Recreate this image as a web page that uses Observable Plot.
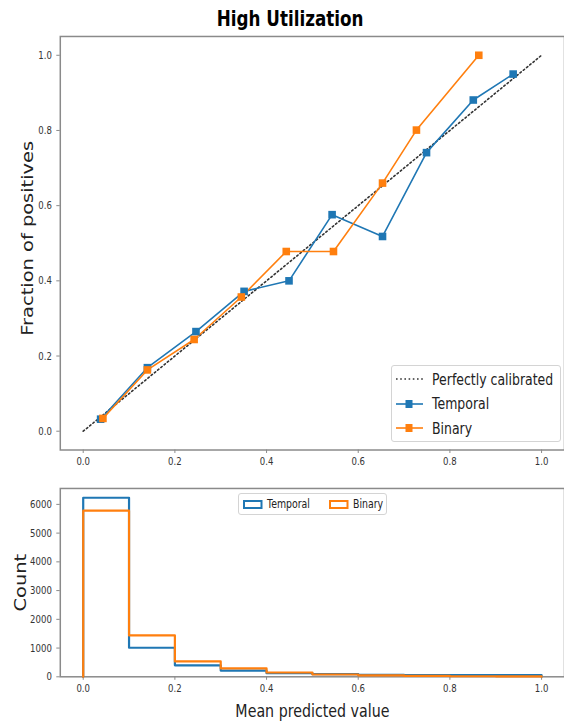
<!DOCTYPE html>
<html><head><meta charset="utf-8">
<script src="https://cdn.jsdelivr.net/npm/d3@7"></script>
<script src="https://cdn.jsdelivr.net/npm/@observablehq/plot@0.6"></script>
<style>
body{margin:0;background:#fff;}
#wrap{position:relative;width:564px;height:722px;overflow:hidden;font-family:"DejaVu Sans",sans-serif;color:#222;}
#title{position:absolute;left:0;width:580px;top:8px;text-align:center;font-weight:bold;font-size:21.5px;color:#000;line-height:21.5px;}
#topChart{position:absolute;left:0;top:30px;}
#bottomChart{position:absolute;left:0;top:480px;}
.sx{display:inline-block;transform:scaleX(0.78);transform-origin:left center;white-space:nowrap;}
#title .sx{transform-origin:center center;}
.legend{position:absolute;background:rgba(255,255,255,0.85);border:1px solid #d4d4d4;border-radius:3px;box-sizing:border-box;}
.row{position:absolute;left:0;display:flex;align-items:center;white-space:nowrap;}
.row svg{display:block;flex:none;}
</style></head>
<body>
<div id="wrap">
  <div id="title"></div>
  <div id="topChart"></div>
  <div id="bottomChart"></div>
  <div id="leg1" class="legend" style="left:391px;top:365px;width:170px;height:77px;font-size:16px;"></div>
  <div id="leg2" class="legend" style="left:238px;top:493px;width:149px;height:22px;font-size:12px;"></div>
</div>
<script>
const titleText = "High Utilization";
const seriesNames = ["Temporal", "Binary"];
const refName = "Perfectly calibrated";
const colors = ["#1f77b4", "#ff7f0e"];
const refX = [0, 1];
const refY = [0, 1];
const temporalX = [0.038, 0.140, 0.246, 0.351, 0.449, 0.543, 0.653, 0.749, 0.851, 0.938];
const temporalY = [0.032, 0.169, 0.265, 0.372, 0.400, 0.576, 0.518, 0.741, 0.881, 0.950];
const binaryX = [0.043, 0.140, 0.242, 0.345, 0.443, 0.546, 0.653, 0.727, 0.863];
const binaryY = [0.034, 0.163, 0.244, 0.357, 0.478, 0.478, 0.660, 0.801, 1.000];
const binEdges = [0, 0.1, 0.2, 0.3, 0.4, 0.5, 0.6, 0.7, 0.8, 0.9, 1.0];
const temporalCounts = [6230, 1010, 400, 215, 125, 90, 70, 60, 55, 55];
const binaryCounts = [5780, 1440, 535, 290, 150, 80, 50, 30, 20, 15];
const xTicks = [0, 0.2, 0.4, 0.6, 0.8, 1.0];
const yTicksTop = [0, 0.2, 0.4, 0.6, 0.8, 1.0];
const yTicksBottom = [0, 1000, 2000, 3000, 4000, 5000, 6000];
const xLabelBottom = "Mean predicted value";
const yLabelTop = "Fraction of positives";
const yLabelBottom = "Count";

(function () {
const SX = 0.78;
document.getElementById("title").innerHTML = `<span class="sx">${titleText}</span>`;

const curves = [
  {name: seriesNames[0], xs: temporalX, ys: temporalY},
  {name: seriesNames[1], xs: binaryX, ys: binaryY}
];
const calData = curves.flatMap(c => c.xs.map((x, i) => ({series: c.name, x, y: c.ys[i]})));
const refData = refX.map((x, i) => ({x, y: refY[i]}));

const fmt1 = d3.format(".1f");
const font = '"DejaVu Sans",sans-serif';
const frameColor = "#8a8a8a";

const chartTop = Plot.plot({
  width: 566, height: 445,
  marginLeft: 60, marginRight: 0, marginTop: 6, marginBottom: 24,
  style: {fontFamily: font, fontSize: "11px", color: "#333", background: "transparent", overflow: "visible"},
  x: {domain: [-0.05, 1.05]},
  y: {domain: [-0.05, 1.05]},
  color: {domain: seriesNames, range: colors},
  marks: [
    Plot.axisX({ticks: xTicks, tickFormat: fmt1, tickSize: 3.5, tickPadding: 4, label: null, stroke: frameColor}),
    Plot.axisY({ticks: yTicksTop, tickFormat: fmt1, tickSize: 3.5, tickPadding: 5, label: yLabelTop, labelAnchor: "center", labelOffset: 38, stroke: frameColor}),
    Plot.frame({stroke: frameColor, strokeWidth: 1.5}),
    Plot.line(refData, {x: "x", y: "y", stroke: "#333", strokeWidth: 1.6, strokeDasharray: "1.6,2.6"}),
    Plot.line(calData, {x: "x", y: "y", z: "series", stroke: "series", strokeWidth: 1.6}),
    Plot.dot(calData, {x: "x", y: "y", fill: "series", symbol: "square", r: 4.3})
  ]
});
document.getElementById("topChart").appendChild(chartTop);

const histData = [
  {name: seriesNames[0], counts: temporalCounts},
  {name: seriesNames[1], counts: binaryCounts}
].flatMap(s => {
  const pts = [{series: s.name, x: binEdges[0], y: 0}];
  s.counts.forEach((c, i) => pts.push({series: s.name, x: binEdges[i], y: c}));
  pts.push({series: s.name, x: binEdges[binEdges.length - 1], y: 0});
  return pts;
});
const yMax = d3.max([...temporalCounts, ...binaryCounts]) * 1.052;

const chartBottom = Plot.plot({
  width: 566, height: 242,
  marginLeft: 60, marginRight: 0, marginTop: 8, marginBottom: 45,
  style: {fontFamily: font, fontSize: "11px", color: "#333", background: "transparent", overflow: "visible"},
  x: {domain: [-0.05, 1.05]},
  y: {domain: [0, yMax]},
  color: {domain: seriesNames, range: colors},
  marks: [
    Plot.axisX({ticks: xTicks, tickFormat: fmt1, tickSize: 3.5, tickPadding: 4, label: xLabelBottom, labelAnchor: "center", labelOffset: 40, stroke: frameColor}),
    Plot.axisY({ticks: yTicksBottom, tickFormat: d3.format("d"), tickSize: 3.5, tickPadding: 5, label: yLabelBottom, labelAnchor: "center", labelOffset: 45, stroke: frameColor}),
    Plot.frame({stroke: frameColor, strokeWidth: 1.5}),
    Plot.line(histData, {x: "x", y: "y", z: "series", stroke: "series", strokeWidth: 2.2, curve: "step-after"})
  ]
});
document.getElementById("bottomChart").appendChild(chartBottom);

// axis labels: exact text, larger size
const labelTexts = [[chartTop, "y", yLabelTop, 19.5, 5], [chartBottom, "x", xLabelBottom, 18.3, 0], [chartBottom, "y", yLabelBottom, 19.5, 0]];
for (const [svg, axis, label, size, shift] of labelTexts) {
  svg.querySelectorAll(`g[aria-label='${axis}-axis label'] text`).forEach(t => {
    t.textContent = label;
    t.setAttribute("font-size", size);
    t.style.fontSize = size + "px";
    t.setAttribute("fill", "#222");
    if (shift) t.setAttribute("dx", shift);
  });
}
// horizontal compression of all chart text
for (const svg of [chartTop, chartBottom]) {
  svg.querySelectorAll("text").forEach(t => {
    const tr = t.getAttribute("transform") || "";
    const m = tr.match(/^\s*(translate\([^)]*\))(.*)$/);
    if (m) t.setAttribute("transform", `${m[1]} scale(${SX},1)${m[2]}`);
    else {
      const x = +(t.getAttribute("x") || 0), y = t.getAttribute("y");
      t.removeAttribute("x");
      t.setAttribute("transform", `translate(${x},0) scale(${SX},1) ${tr}`);
    }
  });
}

const leg1 = document.getElementById("leg1");
const entries1 = [
  {label: refName, color: "#333", dash: "1.6,2.6", marker: false},
  {label: seriesNames[0], color: colors[0], dash: null, marker: true},
  {label: seriesNames[1], color: colors[1], dash: null, marker: true}
];
entries1.forEach((e, i) => {
  const row = document.createElement("div");
  row.className = "row";
  row.style.top = (3 + i * 24.5) + "px";
  row.style.height = "20px";
  row.innerHTML = `<svg width="40" height="20"><line x1="4" x2="31" y1="10" y2="10" stroke="${e.color}" stroke-width="1.6" ${e.dash ? `stroke-dasharray="${e.dash}"` : ""}/>${e.marker ? `<rect x="13.5" y="6" width="7" height="8" fill="${e.color}"/>` : ""}</svg><span class="sx">${e.label}</span>`;
  leg1.appendChild(row);
});

const leg2 = document.getElementById("leg2");
[[seriesNames[0], colors[0], 0], [seriesNames[1], colors[1], 86]].forEach(([label, color, left]) => {
  const row = document.createElement("div");
  row.className = "row";
  row.style.top = "1px";
  row.style.left = left + "px";
  row.style.height = "18px";
  row.innerHTML = `<svg width="28" height="18"><rect x="5" y="6" width="17.5" height="7" fill="none" stroke="${color}" stroke-width="2"/></svg><span class="sx">${label}</span>`;
  leg2.appendChild(row);
});
})();
</script>
</body></html>
